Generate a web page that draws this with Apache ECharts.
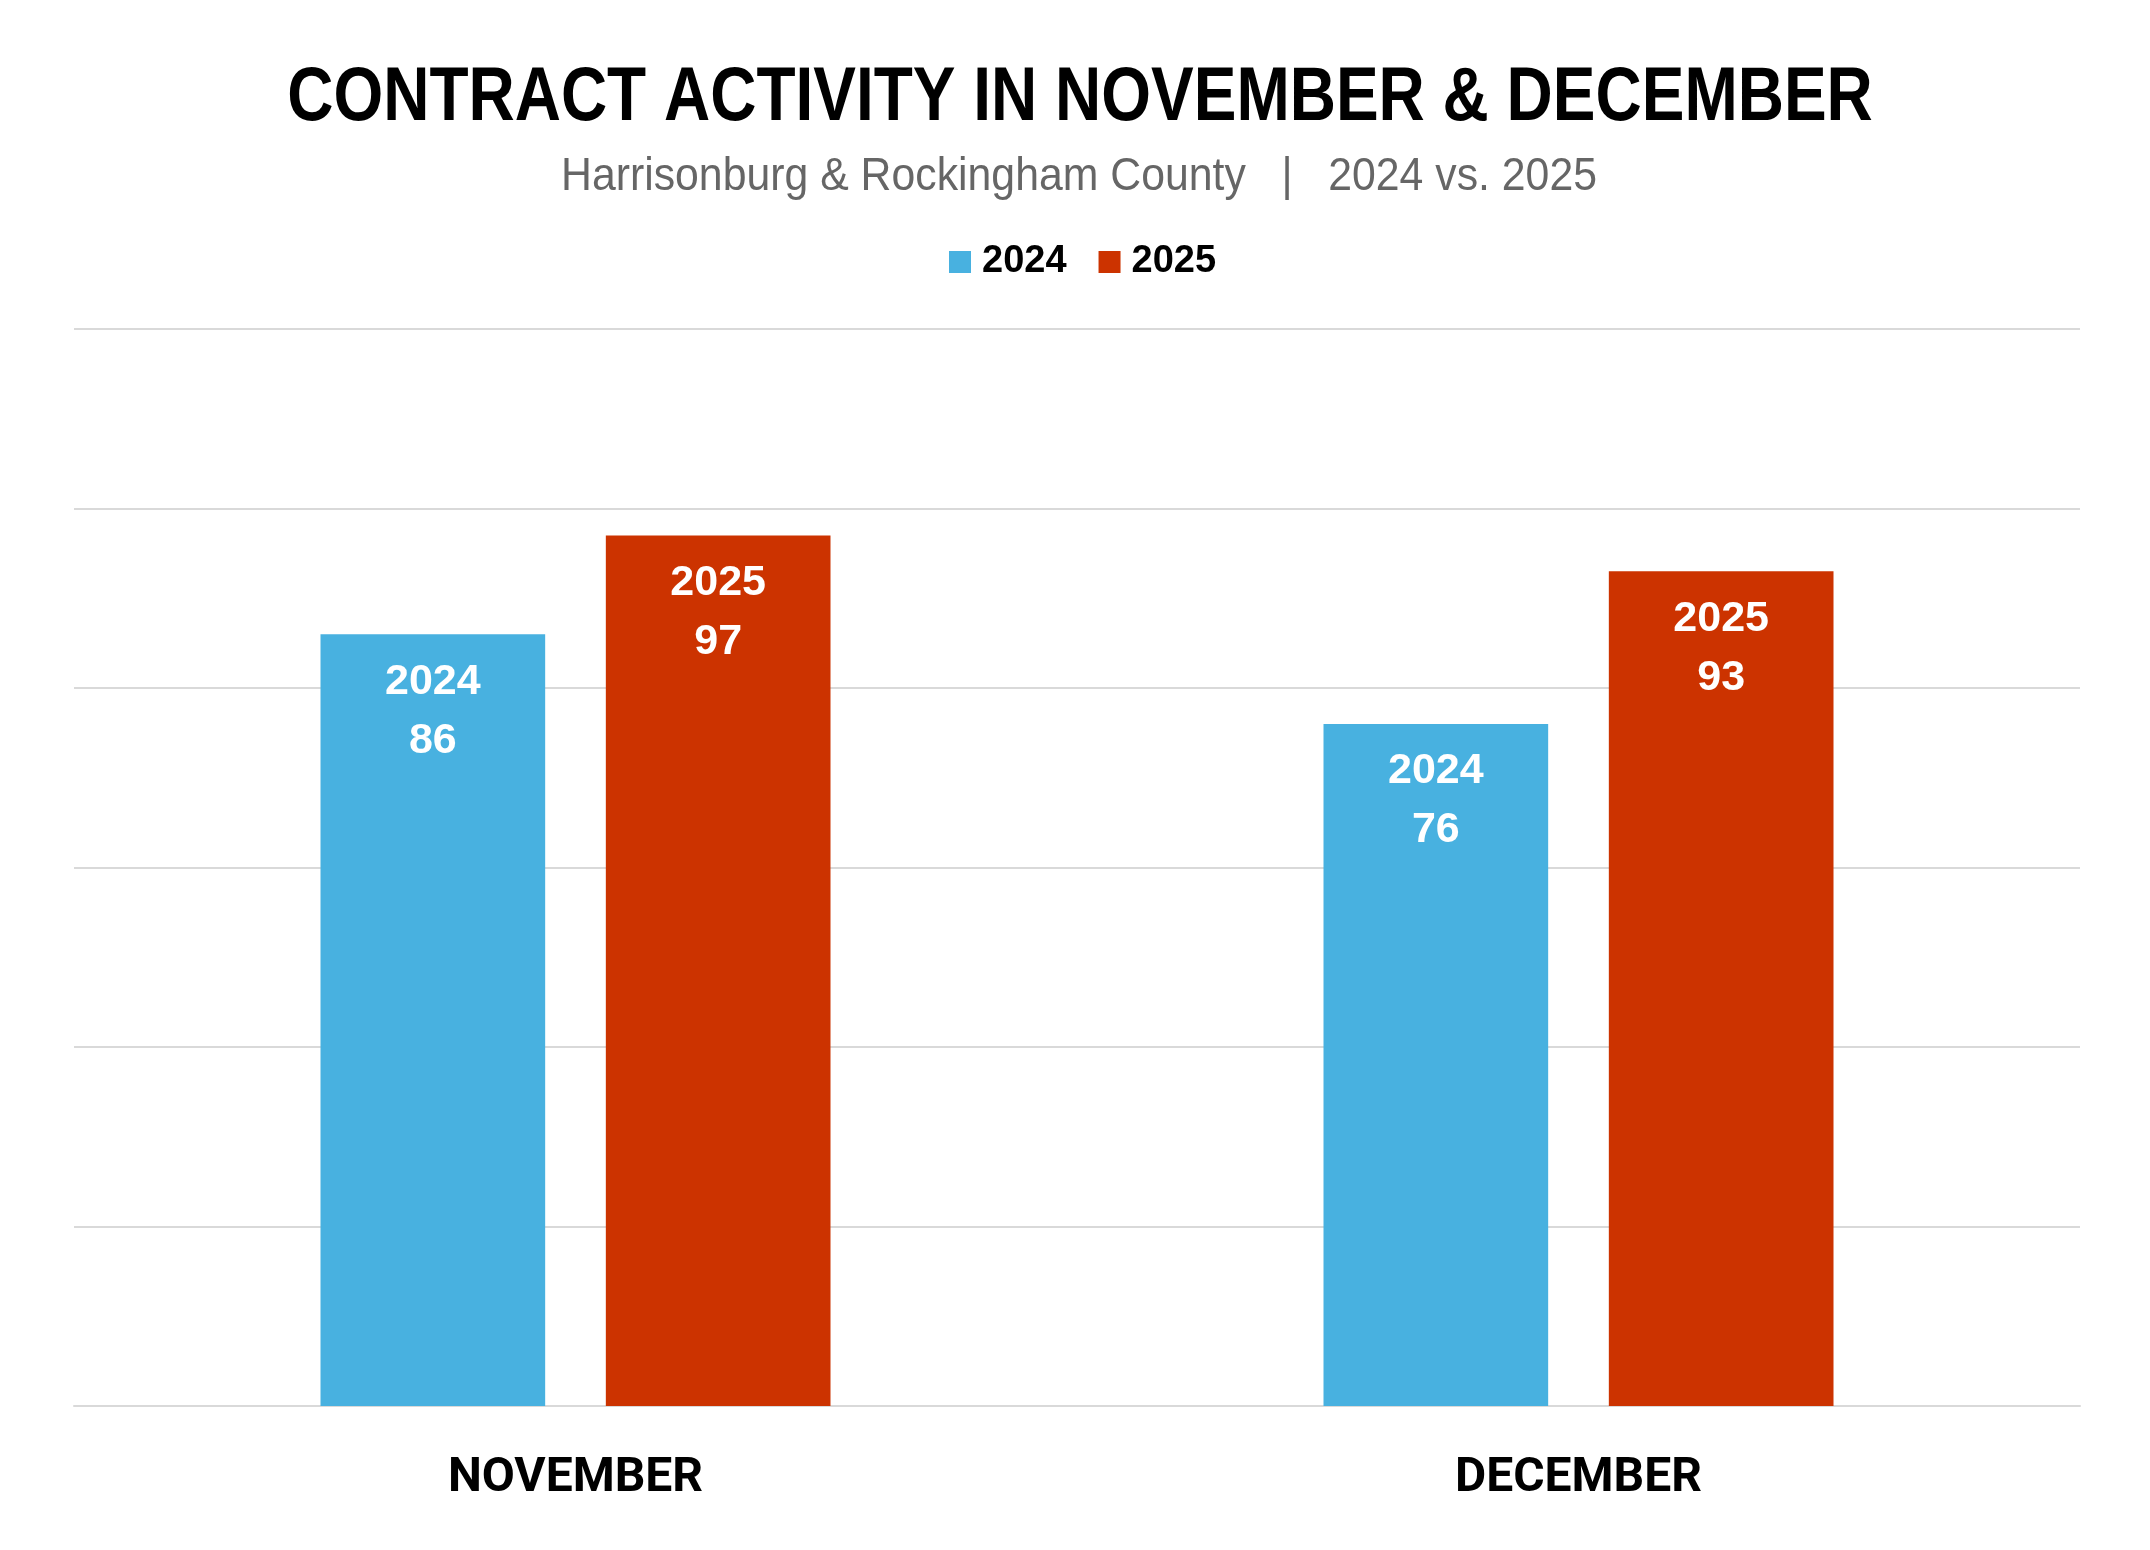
<!DOCTYPE html>
<html>
<head>
<meta charset="utf-8">
<script src="https://cdn.jsdelivr.net/npm/echarts@6/dist/echarts.min.js"></script>
<style>
html,body{margin:0;padding:0;background:#fff;}
#chart{width:2150px;height:1550px;}
</style>
</head>
<body>
<div id="chart"></div>
<script>
const titleText = 'CONTRACT ACTIVITY IN NOVEMBER & DECEMBER';
const subtitleText = 'Harrisonburg & Rockingham County   |   2024 vs. 2025';
const categories = ['NOVEMBER', 'DECEMBER'];
const seriesNames = ['2024', '2025'];
const values2024 = [86, 76];
const values2025 = [97, 93];
const colors = ['#48B1E0', '#CC3300'];
const yMin = 0, yMax = 120, yInterval = 20;

const sans = '"Liberation Sans", Arial, sans-serif';
const chart = echarts.init(document.getElementById('chart'));

function barSeries(name, data, color) {
  return {
    name: name,
    type: 'bar',
    data: data,
    barWidth: '22.4%',
    barGap: '27%',
    itemStyle: { color: color },
    label: {
      show: true,
      position: 'insideTop',
      distance: 18,
      formatter: '{a}\n{c}',
      color: '#fff',
      fontFamily: sans,
      fontWeight: 'bold',
      fontSize: 43,
      lineHeight: 59
    }
  };
}

chart.setOption({
  animation: false,
  backgroundColor: '#fff',
  color: colors,
  graphic: [
    {
      type: 'text',
      x: 1080, y: 99,
      scaleX: 0.842,
      style: {
        text: titleText,
        textAlign: 'center',
        textVerticalAlign: 'middle',
        fontFamily: sans, fontWeight: 'bold', fontSize: 76,
        fill: '#000'
      }
    },
    {
      type: 'text',
      x: 1079, y: 177,
      scaleX: 0.93,
      style: {
        text: subtitleText,
        textAlign: 'center',
        textVerticalAlign: 'middle',
        fontFamily: sans, fontWeight: 'normal', fontSize: 46,
        fill: '#666666'
      }
    }
  ],
  legend: {
    data: seriesNames,
    top: 238,
    left: 944,
    itemWidth: 22,
    itemHeight: 22,
    itemGap: 32,
    icon: 'rect',
    textStyle: {
      fontFamily: sans,
      fontWeight: 'bold', fontSize: 38, color: '#000',
      padding: [0, 0, 0, 6]
    }
  },
  grid: { left: 74, right: 70, top: 329, bottom: 1550 - 1406, containLabel: false },
  xAxis: {
    type: 'category',
    data: categories,
    axisLine: { show: true, lineStyle: { color: '#d9d9d9', width: 2 } },
    axisTick: { show: false },
    axisLabel: {
      margin: 49,
      fontFamily: 'Roboto, sans-serif',
      fontWeight: 'bold', fontSize: 48, color: '#000'
    }
  },
  yAxis: {
    type: 'value',
    min: yMin, max: yMax, interval: yInterval,
    axisLine: { show: false },
    axisTick: { show: false },
    axisLabel: { show: false },
    splitLine: { show: true, lineStyle: { color: '#d9d9d9', width: 2 } }
  },
  series: [
    barSeries(seriesNames[0], values2024, colors[0]),
    barSeries(seriesNames[1], values2025, colors[1])
  ]
});
</script>
</body>
</html>
